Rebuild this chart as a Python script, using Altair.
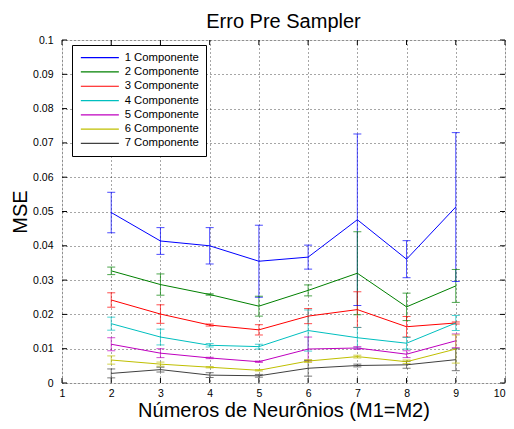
import altair as alt
import pandas as pd

neurons = [2, 3, 4, 5, 6, 7, 8, 9]
series_names = ["1 Componente", "2 Componente", "3 Componente", "4 Componente",
                "5 Componente", "6 Componente", "7 Componente"]
colors = ["#0000ff", "#008000", "#ff0000", "#00bfbf", "#bf00bf", "#bfbf00", "#404040"]

mse_1 = [0.0497, 0.0414, 0.0400, 0.0355, 0.0367, 0.0476, 0.0361, 0.0513]
err_1 = [0.0059, 0.0039, 0.0053, 0.0105, 0.0035, 0.0250, 0.0054, 0.0217]
mse_2 = [0.0327, 0.0287, 0.0258, 0.0224, 0.0270, 0.0320, 0.0222, 0.0283]
err_2 = [0.0011, 0.0031, 0.0002, 0.0029, 0.0016, 0.0121, 0.0040, 0.0048]
mse_3 = [0.0242, 0.0201, 0.0169, 0.0155, 0.0195, 0.0214, 0.0164, 0.0175]
err_3 = [0.0021, 0.0027, 0.0003, 0.0015, 0.0022, 0.0052, 0.0030, 0.0003]
mse_4 = [0.0173, 0.0134, 0.0110, 0.0106, 0.0153, 0.0132, 0.0116, 0.0175]
err_4 = [0.0019, 0.0023, 0.0005, 0.0007, 0.0060, 0.0030, 0.0017, 0.0022]
mse_5 = [0.0113, 0.0087, 0.0073, 0.0062, 0.0099, 0.0102, 0.0084, 0.0123]
err_5 = [0.0019, 0.0013, 0.0002, 0.0002, 0.0035, 0.0004, 0.0010, 0.0020]
mse_6 = [0.0067, 0.0055, 0.0046, 0.0037, 0.0064, 0.0077, 0.0062, 0.0099]
err_6 = [0.0012, 0.0006, 0.0002, 0.0002, 0.0004, 0.0004, 0.0005, 0.0041]
mse_7 = [0.0028, 0.0039, 0.0023, 0.0021, 0.0043, 0.0051, 0.0053, 0.0068]
err_7 = [0.0013, 0.0007, 0.0007, 0.0004, 0.0023, 0.0004, 0.0010, 0.0032]

x_ticks = [1, 2, 3, 4, 5, 6, 7, 8, 9, 10]
y_ticks = [0, 0.01, 0.02, 0.03, 0.04, 0.05, 0.06, 0.07, 0.08, 0.09, 0.1]

means = [mse_1, mse_2, mse_3, mse_4, mse_5, mse_6, mse_7]
errs = [err_1, err_2, err_3, err_4, err_5, err_6, err_7]

rows = []
for name, m, e in zip(series_names, means, errs):
    for xv, mv, ev in zip(neurons, m, e):
        rows.append({"n": xv, "mse": mv, "lo": mv - ev, "hi": mv + ev,
                     "serie": name, "serie_e": name})
df = pd.DataFrame(rows)

W, H = 443, 343
FONT = "Liberation Sans"

xscale = alt.Scale(domain=[1, 10], nice=False, zero=False)
yscale = alt.Scale(domain=[0, 0.1], nice=False)

xaxis = alt.Axis(values=x_ticks, title="Números de Neurônios (M1=M2)", grid=True,
                 gridDash=[1, 3], gridColor="#000000", gridOpacity=0.7,
                 ticks=False, domain=False, labelFontSize=10.5, labelPadding=5,
                 labelOverlap=False,
                 labelAlign={"expr": "datum.value == 10 ? 'right' : 'center'"},
                 titleFontSize=20, titleFontWeight="normal", titlePadding=2,
                 labelColor="#000000", titleColor="#000000", labelFont=FONT, titleFont=FONT)
yaxis = alt.Axis(values=y_ticks, format="~g", title="MSE", grid=True,
                 gridDash=[1, 3], gridColor="#000000", gridOpacity=0.7,
                 ticks=False, domain=False, labelFontSize=10.5, labelPadding=9,
                 labelOverlap=False,
                 titleFontSize=20, titleFontWeight="normal", titlePadding=2,
                 labelColor="#000000", titleColor="#000000", labelFont=FONT, titleFont=FONT)

X = alt.X("n:Q", scale=xscale, axis=xaxis)

base = alt.Chart(df)

ecolor = alt.Color("serie_e:N", scale=alt.Scale(domain=series_names, range=colors), legend=None)

bars = base.mark_rule(strokeWidth=1, opacity=0.7).encode(
    x=X,
    y=alt.Y("lo:Q", scale=yscale, axis=yaxis),
    y2="hi:Q",
    color=ecolor,
)
cap_lo = base.mark_tick(orient="horizontal", size=8, thickness=1, opacity=0.7).encode(
    x=X,
    y=alt.Y("lo:Q", scale=yscale, axis=yaxis),
    color=ecolor,
)
cap_hi = base.mark_tick(orient="horizontal", size=8, thickness=1, opacity=0.7).encode(
    x=X,
    y=alt.Y("hi:Q", scale=yscale, axis=yaxis),
    color=ecolor,
)

lines = base.mark_line(strokeWidth=1).encode(
    x=X,
    y=alt.Y("mse:Q", scale=yscale, axis=yaxis),
    color=alt.Color("serie:N", scale=alt.Scale(domain=series_names, range=colors),
                    legend=alt.Legend(title=None, orient="none", legendX=10, legendY=5,
                                      fillColor="#ffffff", strokeColor="#000000",
                                      padding=7, symbolType="M-5,0H5", symbolSize=57.8,
                                      symbolOffset=15.2, symbolStrokeWidth=1.2,
                                      labelFontSize=11.3, labelOffset=19.2,
                                      labelFont=FONT, labelColor="#000000",
                                      rowPadding=2.3)),
)

xt = pd.DataFrame({"t": x_ticks})
yt = pd.DataFrame({"t": y_ticks})
tick_style = dict(color="#000000", strokeWidth=1)
XT = alt.X("t:Q", scale=xscale, axis=xaxis)
YT = alt.Y("t:Q", scale=yscale, axis=yaxis)
xb = alt.Chart(xt).mark_rule(**tick_style).encode(
    x=XT, y=alt.value(H), y2=alt.value(H - 5))
xtop = alt.Chart(xt).mark_rule(**tick_style).encode(
    x=XT, y=alt.value(0), y2=alt.value(5))
yl = alt.Chart(yt).mark_rule(**tick_style).encode(
    y=YT, x=alt.value(0), x2=alt.value(5))
yr = alt.Chart(yt).mark_rule(**tick_style).encode(
    y=YT, x=alt.value(W), x2=alt.value(W - 5))

chart = alt.layer(bars, cap_lo, cap_hi, lines, xb, xtop, yl, yr).resolve_scale(
    color="independent"
).properties(
    width=W, height=H,
    title=alt.Title("Erro Pre Sampler", fontSize=20, fontWeight="normal", font=FONT,
                    color="#000000", offset=3, frame="group"),
    autosize=alt.AutoSizeParams(type="none"),
    padding={"left": 54, "top": 32, "right": 1, "bottom": 38},
).configure_view(stroke="#000000", strokeWidth=1.5).configure_axis(
    labelOverlap=False
).configure(background="#ffffff")

chart.save("out.html", embed_options={"renderer": "svg", "actions": False})
